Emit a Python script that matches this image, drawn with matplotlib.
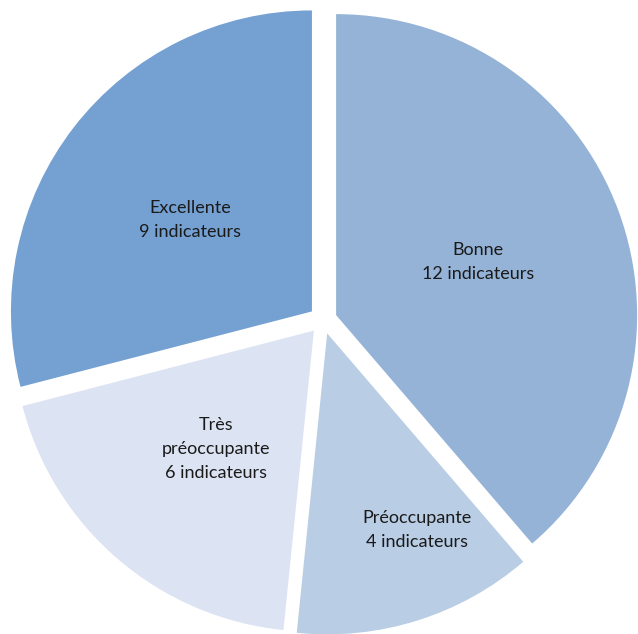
import matplotlib
matplotlib.use("Agg")
import matplotlib.pyplot as plt
import numpy as np

categories = ["Bonne", "Préoccupante", "Très\npréoccupante", "Excellente"]
values = [12, 4, 6, 9]
labels = [f"{c}\n{v} indicateurs" for c, v in zip(categories, values)]
colors = ["#95B3D7", "#B9CDE5", "#DCE3F3", "#74A0D2"]

W, H = 638, 634
fig = plt.figure(figsize=(W / 100, H / 100), dpi=100)
ax = fig.add_axes([0, 0, 1, 1])

R = 301
center = (323, H - 320)
wedges, texts = ax.pie(values, radius=R, center=center, colors=colors,
                       startangle=90, counterclock=False, explode=[14] * 4,
                       labels=labels, labeldistance=0.49,
                       textprops=dict(fontsize=13, family=["Lato", "DejaVu Sans"],
                                      color="#1a1a1a", ha="center", va="center",
                                      linespacing=1.6),
                       wedgeprops=dict(linewidth=0), frame=True)
ax.set_xlim(0, W)
ax.set_ylim(0, H)
ax.set_aspect("equal")
ax.axis("off")

# label anchor positions (pixel coords, y measured from top)
label_pos = [(478, 262), (417, 530), (216, 449), (190, 220)]
for t, (lx, ly) in zip(texts, label_pos):
    t.set_horizontalalignment("center")
    t.set_verticalalignment("center")
    t.set_position((lx, H - ly))

fig.savefig("out.png", dpi=100)
